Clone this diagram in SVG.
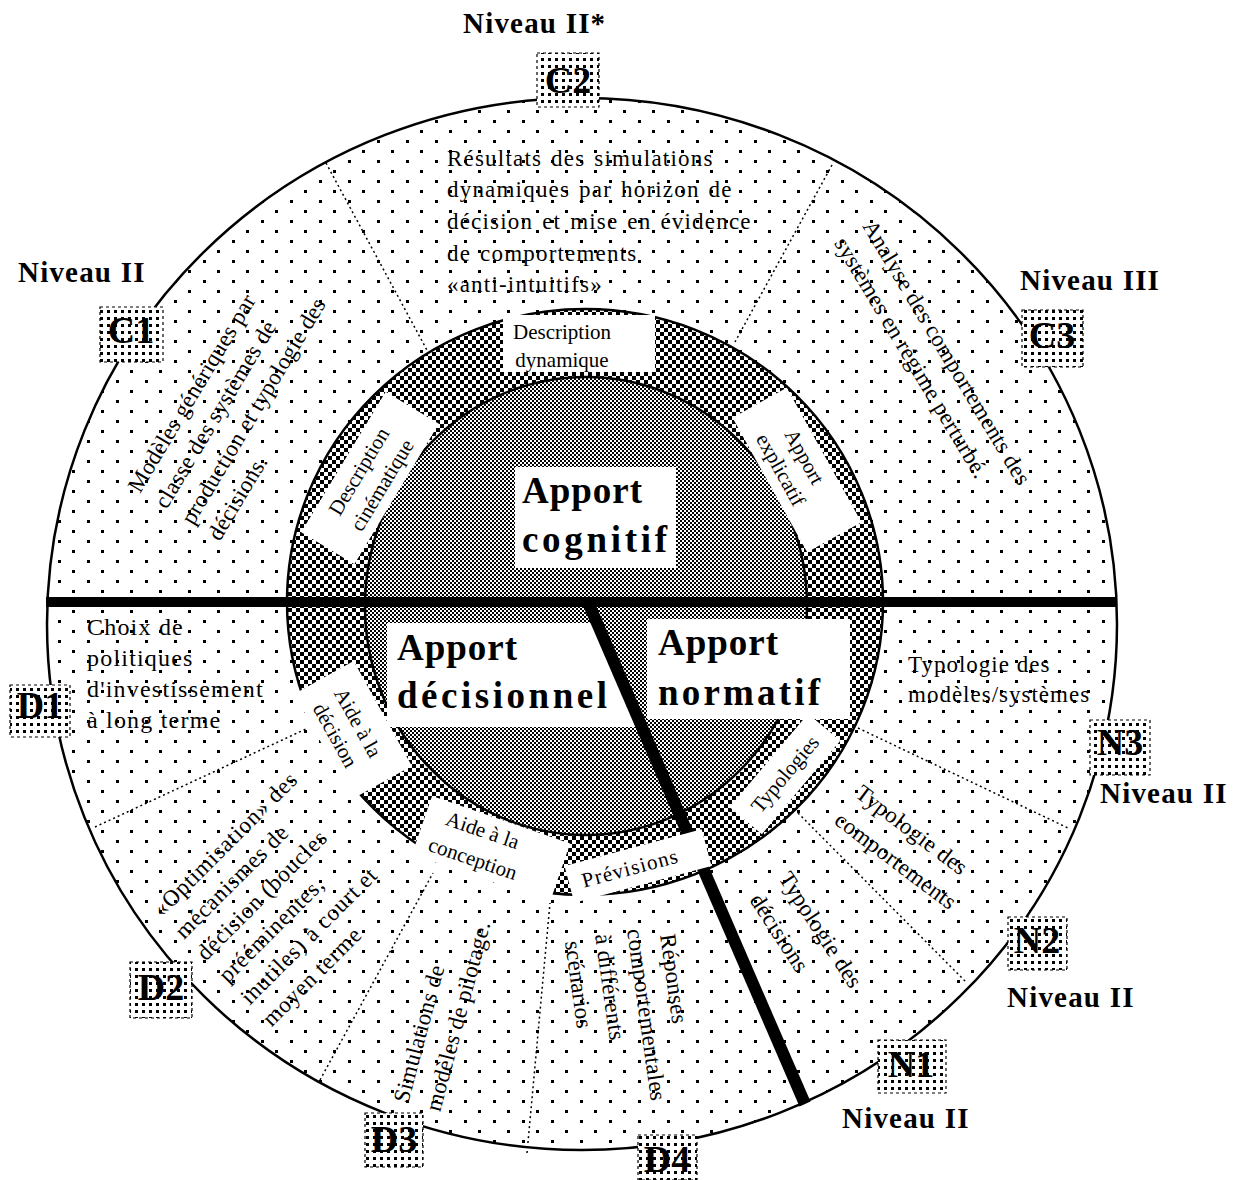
<svg xmlns="http://www.w3.org/2000/svg" width="1250" height="1180" viewBox="0 0 1250 1180">
<defs>
<pattern id="dots" width="29" height="20" patternUnits="userSpaceOnUse"><rect width="29" height="20" fill="#fff"/><rect x="0" y="0" width="3" height="3" fill="#000"/><rect x="14" y="10" width="3" height="3" fill="#000"/></pattern>
<pattern id="chkA" width="8" height="8" patternUnits="userSpaceOnUse"><rect width="8" height="8" fill="#fff"/><rect width="4" height="4" fill="#000"/><rect x="4" y="4" width="4" height="4" fill="#000"/></pattern>
<pattern id="chkB" width="4" height="4" patternUnits="userSpaceOnUse"><rect width="4" height="4" fill="#fff"/><rect width="2" height="2" fill="#000"/><rect x="2" y="2" width="2" height="2" fill="#000"/></pattern>
<pattern id="dense" width="7" height="7" patternUnits="userSpaceOnUse"><rect width="7" height="7" fill="#fff"/><rect x="2" y="2" width="3" height="3" fill="#000"/></pattern>
</defs>
<style>
text{font-family:'Liberation Serif','Times New Roman',serif;fill:#000}
.r{font-size:23px;letter-spacing:0.3px}
.lb{font-size:21px;text-anchor:middle}
.big{font-size:37px;font-weight:bold}
.code{font-size:38px;font-weight:bold;text-anchor:middle}
.niv{font-size:29px;font-weight:bold;letter-spacing:1.2px}
.div{stroke:#000;stroke-width:1.5;stroke-dasharray:2 3;fill:none}
.box{fill:#fff;stroke:none}
.lbl{fill:url(#dense);stroke:#000;stroke-width:1.2;stroke-dasharray:3 3}
.ring{stroke:#000;stroke-width:2.5}
</style>
<rect width="1250" height="1180" fill="#fff"/>

<g id="rings">
<ellipse class="ring" cx="582" cy="624" rx="535" ry="526" fill="url(#dots)"/>
</g>

<g id="connectors">
<line class="div" x1="326" y1="163" x2="428" y2="352"/>
<line class="div" x1="832" y1="165" x2="735" y2="342"/>
<line class="div" x1="95" y1="827" x2="308" y2="728"/>
<line class="div" x1="320" y1="1080" x2="433" y2="873"/>
<line class="div" x1="527" y1="1153" x2="550" y2="903"/>
<line class="div" x1="858" y1="728" x2="1068" y2="828"/>
<line class="div" x1="798" y1="813" x2="967" y2="983"/>
</g>

<g id="core">
<ellipse class="ring" cx="585" cy="602" rx="298" ry="293" fill="url(#chkA)"/>
<ellipse class="ring" cx="586" cy="606" rx="221" ry="229" fill="url(#chkB)"/>
</g>

<g id="axes">
<line x1="46" y1="602" x2="1117" y2="602" stroke="#000" stroke-width="10"/>
</g>

<g id="apport-cognitif">
<rect class="box" x="515" y="467" width="161" height="101"/>
<text class="big" x="522" y="503" textLength="120" lengthAdjust="spacing">Apport</text>
<text class="big" x="522" y="552" textLength="145" lengthAdjust="spacing">cognitif</text>
</g>
<g id="apport-decisionnel">
<polygon class="box" points="387,623 597,623 641,727 387,727"/>
<text class="big" x="397" y="660" textLength="120" lengthAdjust="spacing">Apport</text>
<text class="big" x="397" y="708" textLength="210" lengthAdjust="spacing">décisionnel</text>
</g>
<g id="apport-normatif">
<rect class="box" x="647" y="619" width="203" height="100"/>
<text class="big" x="658" y="655" textLength="120" lengthAdjust="spacing">Apport</text>
<text class="big" x="658" y="705" textLength="162" lengthAdjust="spacing">normatif</text>
</g>

<g id="axis-diag">
<line x1="588" y1="602" x2="688" y2="834" stroke="#000" stroke-width="12"/>
<line x1="702" y1="866" x2="805" y2="1104" stroke="#000" stroke-width="12"/>
</g>

<g id="desc-dynamique">
<rect class="box" x="503" y="315" width="152" height="57"/>
<text class="lb" x="562" y="339">Description</text>
<text class="lb" x="562" y="367">dynamique</text>
</g>
<g id="desc-cinematique" transform="translate(370,478) rotate(-59)">
<rect class="box" x="-82" y="-31" width="164" height="62"/>
<text class="lb" x="0" y="-6">Description</text>
<text class="lb" x="0" y="21">cinématique</text>
</g>
<g id="apport-explicatif" transform="translate(797,470) rotate(61)">
<rect class="box" x="-77" y="-31" width="154" height="62"/>
<text class="lb" x="-8" y="-6">Apport</text>
<text class="lb" x="-8" y="21">explicatif</text>
</g>
<g id="aide-decision" transform="translate(353,730) rotate(61)">
<rect class="box" x="-60" y="-34" width="120" height="68"/>
<text class="lb" x="-4" y="-1">Aide à la</text>
<text class="lb" x="-4" y="25">décision</text>
</g>
<g id="aide-conception" transform="translate(491,849) rotate(19)">
<rect class="box" x="-73" y="-31" width="146" height="62"/>
<text class="lb" x="-14" y="-8">Aide à la</text>
<text class="lb" x="-14" y="22">conception</text>
</g>
<g id="previsions" transform="translate(638,866) rotate(-15)">
<rect class="box" x="-71" y="-19" width="142" height="38"/>
<text class="lb" x="-8" y="7" style="letter-spacing:1.2px">Prévisions</text>
</g>
<g id="typologies" transform="translate(785,774) rotate(-50)">
<rect class="box" x="-61" y="-21" width="122" height="42"/>
<text class="lb" x="0" y="7">Typologies</text>
</g>

<g id="text-c2">
<text class="r" style="letter-spacing:1.2px;word-spacing:2px">
<tspan x="447" y="166">Résultats des simulations</tspan>
<tspan x="447" y="197">dynamiques par horizon de</tspan>
<tspan x="447" y="229">décision et mise en évidence</tspan>
<tspan x="447" y="261">de comportements</tspan>
<tspan x="447" y="292">«anti-intuitifs»</tspan>
</text>
</g>
<g id="text-c1">
<text class="r" transform="translate(140,494) rotate(-59)">
<tspan x="0" y="0">Modèles génériques par</tspan>
<tspan x="0" y="31">classe des systèmes de</tspan>
<tspan x="0" y="62">production et typologie des</tspan>
<tspan x="0" y="93">décisions.</tspan>
</text>
</g>
<g id="text-c3">
<text class="r" transform="translate(862,226) rotate(59)">
<tspan x="0" y="0">Analyse des comportements des</tspan>
<tspan x="0" y="33">systèmes en régime perturbé.</tspan>
</text>
</g>
<g id="text-d1">
<text class="r" style="font-size:24px;letter-spacing:1.2px">
<tspan x="87" y="635">Choix de</tspan>
<tspan x="87" y="666">politiques</tspan>
<tspan x="87" y="697">d'investissement</tspan>
<tspan x="87" y="728">à long terme</tspan>
</text>
</g>
<g id="text-d2">
<text class="r" style="letter-spacing:0.8px" transform="translate(162,918) rotate(-45)">
<tspan x="0" y="0">«Optimisation» des</tspan>
<tspan x="0" y="31">mécanismes de</tspan>
<tspan x="0" y="62">décision (boucles</tspan>
<tspan x="0" y="93">prééminentes,</tspan>
<tspan x="0" y="124">inutiles) à court et</tspan>
<tspan x="0" y="155">moyen terme</tspan>
</text>
</g>
<g id="text-d3">
<text class="r" transform="translate(408,1104) rotate(-75)">
<tspan x="0" y="0">Simulations de</tspan>
<tspan x="0" y="33">modèles de pilotage.</tspan>
</text>
</g>
<g id="text-d4">
<text class="r" transform="translate(660,935) rotate(82)">Réponses</text>
<text class="r" transform="translate(627,930) rotate(82)">comportementales</text>
<text class="r" transform="translate(595,935) rotate(82)">à différents</text>
<text class="r" transform="translate(565,942) rotate(82)">scénarios</text>
</g>
<g id="text-n3">
<text class="r" style="letter-spacing:1px">
<tspan x="908" y="672">Typologie des</tspan>
<tspan x="908" y="702">modèles/systèmes</tspan>
</text>
</g>
<g id="text-n2">
<text class="r" transform="translate(854,796) rotate(37)">Typologie des</text>
<text class="r" transform="translate(833,823) rotate(37)">comportements</text>
</g>
<g id="text-n1">
<text class="r" transform="translate(778,878) rotate(57)">Typologie des</text>
<text class="r" transform="translate(749,900) rotate(57)">décisions</text>
</g>

<g id="C2"><rect class="lbl" x="537" y="53" width="62" height="54"/><text class="code" x="568" y="93">C2</text></g>
<g id="C1"><rect class="lbl" x="100" y="307" width="63" height="55"/><text class="code" x="131" y="343">C1</text></g>
<g id="C3"><rect class="lbl" x="1022" y="310" width="61" height="57"/><text class="code" x="1052" y="348">C3</text></g>
<g id="D1"><rect class="lbl" x="10" y="685" width="60" height="52"/><text class="code" x="40" y="718">D1</text></g>
<g id="D2"><rect class="lbl" x="130" y="962" width="62" height="56"/><text class="code" x="161" y="1000">D2</text></g>
<g id="D3"><rect class="lbl" x="365" y="1113" width="58" height="54"/><text class="code" x="394" y="1152">D3</text></g>
<g id="D4"><rect class="lbl" x="638" y="1135" width="59" height="45"/><text class="code" x="667" y="1172">D4</text></g>
<g id="N1"><rect class="lbl" x="878" y="1040" width="68" height="53"/><text class="code" x="911" y="1077">N1</text></g>
<g id="N2"><rect class="lbl" x="1008" y="917" width="59" height="53"/><text class="code" x="1037" y="953">N2</text></g>
<g id="N3"><rect class="lbl" x="1090" y="720" width="60" height="55"/><text class="code" x="1120" y="755">N3</text></g>

<g id="levels">
<text class="niv" x="463" y="33">Niveau II*</text>
<text class="niv" x="18" y="282">Niveau II</text>
<text class="niv" x="1020" y="290">Niveau III</text>
<text class="niv" x="1100" y="803">Niveau II</text>
<text class="niv" x="1007" y="1007">Niveau II</text>
<text class="niv" x="842" y="1128">Niveau II</text>
</g>
</svg>
